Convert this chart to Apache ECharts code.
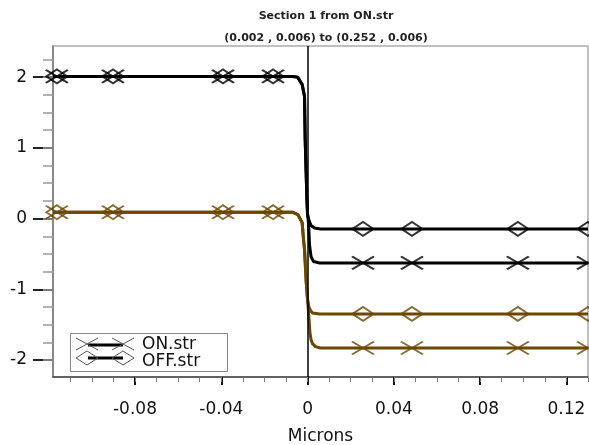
<!DOCTYPE html>
<html>
<head>
<meta charset="UTF-8">
<title>Section 1 from ON.str</title>
<script src="https://cdn.jsdelivr.net/npm/echarts@6/dist/echarts.min.js"></script>
<style>
  html, body { margin: 0; padding: 0; background: #fff; }
  #chart { width: 589px; height: 445px; }
</style>
</head>
<body>
<div id="chart"></div>
<script>
// curves (microns, value)
const blackOnX  = [-0.118, -0.007, -0.0046, -0.0025, -0.0014, -0.0011, -0.0003, 0, 0.0005, 0.0009, 0.0016, 0.0028, 0.0056, 0.13];
const blackOnY  = [2.01, 2.01, 2.0, 1.895, 1.726, 1.117, 0.269, 0.057, -0.085, -0.368, -0.537, -0.608, -0.627, -0.627];
const blackOffX = [-0.118, -0.007, -0.0046, -0.0025, -0.0014, -0.0011, -0.0003, 0, 0.0007, 0.0016, 0.0032, 0.006, 0.13];
const blackOffY = [2.01, 2.01, 2.0, 1.895, 1.726, 1.117, 0.269, 0.057, -0.028, -0.099, -0.134, -0.146, -0.146];
const brownOnX  = [-0.118, -0.007, -0.0045, -0.0025, -0.0019, -0.0014, -0.0006, 0, 0.0007, 0.0011, 0.0016, 0.0023, 0.0037, 0.006, 0.13];
const brownOnY  = [0.09, 0.09, 0.057, -0.057, -0.283, -0.438, -0.905, -1.146, -1.429, -1.612, -1.711, -1.768, -1.81, -1.829, -1.829];
const brownOffX = [-0.118, -0.007, -0.0045, -0.0025, -0.0019, -0.0014, -0.0006, 0, 0.0006, 0.0014, 0.0023, 0.0056, 0.13];
const brownOffY = [0.09, 0.09, 0.057, -0.057, -0.283, -0.438, -0.905, -1.146, -1.245, -1.301, -1.334, -1.348, -1.348];

// marker positions along x
const markXLeft  = [-0.1162, -0.0902, -0.0392, -0.0160];
const markXRight = [0.0257, 0.0484, 0.0975, 0.13];

// ticks
const xMajorTicks = [-0.08, -0.04, 0, 0.04, 0.08, 0.12];
const xMinorTicks = [];
for (let i = -11; i <= 13; i++) xMinorTicks.push(i / 100);
const yMajorTicks = [-2, -1, 0, 1, 2];
const yMinorTicks = [];
for (let i = -8; i <= 9; i++) yMinorTicks.push(i / 4);

const BLACK = '#000000';
const BROWN = '#6b4700';
const FONT = 'DejaVu Sans';

function pairs(xs, ys) { return xs.map((x, i) => [x, ys[i]]); }
function markers(xs, ys) {
  return markXLeft.map(x => [x, ys[0]]).concat(markXRight.map(x => [x, ys[ys.length - 1]]));
}

const X_SYM = 'path://M0,0L22,12M0,12L22,0';
const D_SYM = 'path://M0,7L11,0L22,7L11,14Z';

function lineSeries(name, xs, ys, color, extra) {
  return Object.assign({
    name: name, type: 'line', data: pairs(xs, ys), showSymbol: false, symbol: 'none',
    lineStyle: { color: color, width: 3, join: 'round' }, itemStyle: { color: color },
    animation: false, z: 3
  }, extra || {});
}
function markSeries(name, xs, ys, color, sym, size) {
  return {
    name: name, type: 'scatter', data: markers(xs, ys), symbol: sym, symbolSize: size,
    itemStyle: { color: 'transparent', borderColor: color, borderWidth: 2 },
    animation: false, z: 4, clip: false
  };
}

const chart = echarts.init(document.getElementById('chart'), null, { renderer: 'canvas' });

const xMin = -0.118, xMax = 0.13, yMin = -2.24, yMax = 2.44;

// legend drawn by hand (line with marker at both ends)
function xMark(cx, cy) {
  return [
    { type: 'line', shape: { x1: cx - 11, y1: cy - 6, x2: cx + 11, y2: cy + 6 }, style: { stroke: '#555', lineWidth: 1 } },
    { type: 'line', shape: { x1: cx - 11, y1: cy + 6, x2: cx + 11, y2: cy - 6 }, style: { stroke: '#555', lineWidth: 1 } }
  ];
}
function dMark(cx, cy) {
  return [{ type: 'polygon', shape: { points: [[cx - 11, cy], [cx, cy - 7], [cx + 11, cy], [cx, cy + 7]] },
    style: { fill: 'none', stroke: '#555', lineWidth: 1 } }];
}
const legendEls = [
  { type: 'rect', shape: { x: 70.5, y: 333.5, width: 157, height: 38 }, style: { fill: '#fff', stroke: '#888', lineWidth: 1 } },
  { type: 'line', shape: { x1: 88, y1: 345, x2: 123, y2: 345 }, style: { stroke: BLACK, lineWidth: 3 } },
  { type: 'line', shape: { x1: 88, y1: 358, x2: 123, y2: 358 }, style: { stroke: BLACK, lineWidth: 3 } }
].concat(xMark(87, 344), xMark(123, 344), dMark(87, 358), dMark(123, 358), [
  { type: 'text', x: 142, y: 345, style: { text: 'ON.str', font: '17px "DejaVu Sans"', fill: '#111', verticalAlign: 'middle' } },
  { type: 'text', x: 142, y: 362, style: { text: 'OFF.str', font: '17px "DejaVu Sans"', fill: '#111', verticalAlign: 'middle' } }
]);

chart.setOption({
  animation: false,
  backgroundColor: '#fff',
  title: {
    text: 'Section 1 from ON.str\n(0.002 , 0.006) to (0.252 , 0.006)',
    left: 321, top: 0, textAlign: 'center',
    textStyle: { fontFamily: FONT, fontSize: 11, fontWeight: 'bold', color: '#222', lineHeight: 22 }
  },
  grid: {
    left: 53, right: 1, top: 46, bottom: 68, show: true, borderColor: '#aaa', borderWidth: 1.5,
    containLabel: false, outerBoundsMode: 'none'
  },
  xAxis: [
    {
      type: 'value', min: xMin, max: xMax, position: 'bottom',
      name: 'Microns', nameLocation: 'middle', nameGap: 51,
      nameTextStyle: { fontFamily: FONT, fontSize: 17, color: '#111' },
      axisLine: { show: true, onZero: false, lineStyle: { color: '#444', width: 1.5 } },
      axisTick: { show: true, customValues: xMajorTicks, length: 8, lineStyle: { color: '#111', width: 2 } },
      axisLabel: {
        customValues: xMajorTicks, margin: 24, fontFamily: FONT, fontSize: 17, color: '#111',
        formatter: v => (Math.abs(v) < 1e-9 ? '0' : v.toFixed(2))
      },
      splitLine: { show: false }
    },
    {
      type: 'value', min: xMin, max: xMax, position: 'bottom',
      axisLine: { show: false, onZero: false },
      axisTick: { show: true, customValues: xMinorTicks, length: 5, lineStyle: { color: '#777', width: 1 } },
      axisLabel: { show: false }, splitLine: { show: false }
    }
  ],
  yAxis: [
    {
      type: 'value', min: yMin, max: yMax, position: 'left',
      axisLine: { show: true, onZero: false, lineStyle: { color: '#777', width: 1.5 } },
      axisTick: { show: true, customValues: yMajorTicks, length: 20, lineStyle: { color: '#222', width: 2 } },
      axisLabel: { customValues: yMajorTicks, margin: 26, fontFamily: FONT, fontSize: 17, color: '#111' },
      splitLine: { show: false }
    },
    {
      type: 'value', min: yMin, max: yMax, position: 'left',
      axisLine: { show: false, onZero: false },
      axisTick: { show: true, customValues: yMinorTicks, length: 10, lineStyle: { color: '#999', width: 1.5 } },
      axisLabel: { show: false }, splitLine: { show: false }
    }
  ],
  series: [
    lineSeries('ON.str', blackOnX, blackOnY, BLACK, {
      markLine: {
        silent: true, symbol: ['none', 'none'], label: { show: false },
        lineStyle: { color: '#000', width: 1.5, type: 'solid' },
        data: [{ xAxis: 0 }]
      }
    }),
    lineSeries('OFF.str', blackOffX, blackOffY, BLACK),
    lineSeries('ON.str', brownOnX, brownOnY, BROWN),
    lineSeries('OFF.str', brownOffX, brownOffY, BROWN),
    markSeries('ON.str', blackOnX, blackOnY, BLACK, X_SYM, [22, 13]),
    markSeries('OFF.str', blackOffX, blackOffY, BLACK, D_SYM, [21, 14]),
    markSeries('ON.str', brownOnX, brownOnY, BROWN, X_SYM, [22, 13]),
    markSeries('OFF.str', brownOffX, brownOffY, BROWN, D_SYM, [21, 14])
  ],
  graphic: legendEls
});
</script>
</body>
</html>
